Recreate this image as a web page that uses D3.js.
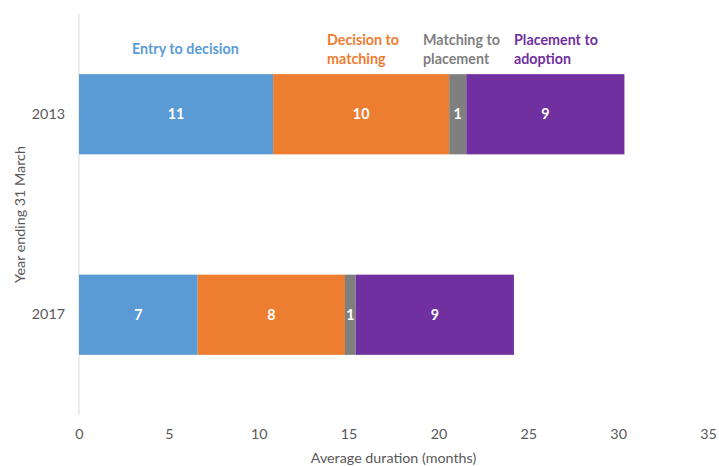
<!DOCTYPE html>
<html>
<head>
<meta charset="utf-8">
<script src="https://cdn.jsdelivr.net/npm/d3@7"></script>
<style>
  body { margin: 0; background: #fff; }
  text { font-family: Lato, "Open Sans", sans-serif; }
</style>
</head>
<body>
<script>
// data
var years = ["2013", "2017"];
var stages = ["Entry to decision", "Decision to matching", "Matching to placement", "Placement to adoption"];
var entryToDecision = [10.8, 6.6];
var decisionToMatching = [9.8, 8.2];
var matchingToPlacement = [0.95, 0.6];
var placementToAdoption = [8.8, 8.8];
var xTicks = [0, 5, 10, 15, 20, 25, 30, 35];

var colors = ["#5b9bd5", "#ed7d31", "#7f7f7f", "#7030a0"];

var width = 719, height = 466;
var margin = {top: 14, right: 11, bottom: 51, left: 79};
var fs = 14.3;

var rows = years.map(function (y, i) {
  return {
    year: y,
    "Entry to decision": entryToDecision[i],
    "Decision to matching": decisionToMatching[i],
    "Matching to placement": matchingToPlacement[i],
    "Placement to adoption": placementToAdoption[i]
  };
});

var svg = d3.select("body").append("svg")
  .attr("width", width)
  .attr("height", height);

var x = d3.scaleLinear()
  .domain([0, 35])
  .range([margin.left, width - margin.right]);

var y = d3.scaleBand()
  .domain(years)
  .range([margin.top, height - margin.bottom])
  .paddingInner(0.6)
  .paddingOuter(0.3);

var stack = d3.stack().keys(stages)(rows);

// vertical axis line
svg.append("line")
  .attr("x1", x(0)).attr("x2", x(0))
  .attr("y1", margin.top).attr("y2", height - margin.bottom)
  .attr("stroke", "#d9d9d9")
  .attr("stroke-width", 1);

var layer = svg.selectAll(".layer")
  .data(stack)
  .enter().append("g")
  .attr("class", "layer")
  .attr("fill", function (d, i) { return colors[i]; });

layer.selectAll("rect")
  .data(function (d) { return d; })
  .enter().append("rect")
  .attr("x", function (d) { return x(d[0]); })
  .attr("width", function (d) { return x(d[1]) - x(d[0]); })
  .attr("y", function (d) { return y(d.data.year); })
  .attr("height", y.bandwidth());

layer.selectAll(".val")
  .data(function (d) { return d; })
  .enter().append("text")
  .attr("class", "val")
  .attr("x", function (d) { return (x(d[0]) + x(d[1])) / 2; })
  .attr("y", function (d) { return y(d.data.year) + y.bandwidth() / 2; })
  .attr("dy", "0.35em")
  .attr("text-anchor", "middle")
  .attr("fill", "#fff")
  .attr("font-weight", "bold")
  .attr("font-size", fs)
  .text(function (d) { return Math.round(d[1] - d[0]); });

// x axis (ticks only, no line)
var xAxis = svg.append("g")
  .attr("transform", "translate(0," + (height - margin.bottom) + ")")
  .call(d3.axisBottom(x).tickValues(xTicks).tickSize(0).tickPadding(14));
xAxis.select(".domain").remove();
xAxis.selectAll("text")
  .attr("font-size", fs)
  .attr("fill", "#595959")
  .style("font-family", "Lato, 'Open Sans', sans-serif");

var yAxis = svg.append("g")
  .attr("transform", "translate(" + margin.left + ",0)")
  .call(d3.axisLeft(y).tickSize(0).tickPadding(14));
yAxis.select(".domain").remove();
yAxis.selectAll("text")
  .attr("font-size", fs)
  .attr("fill", "#595959")
  .style("font-family", "Lato, 'Open Sans', sans-serif");

svg.append("text")
  .attr("x", (x(0) + x(35)) / 2)
  .attr("y", 463)
  .attr("text-anchor", "middle")
  .attr("font-size", fs)
  .attr("fill", "#595959")
  .text("Average duration (months)");

svg.append("text")
  .attr("transform", "translate(25," + ((margin.top + height - margin.bottom) / 2) + ") rotate(-90)")
  .attr("text-anchor", "middle")
  .attr("font-size", fs)
  .attr("fill", "#595959")
  .text("Year ending 31 March");

// stage labels above the 2013 bar
var labelLines = [["Entry to decision"], ["Decision to", "matching"], ["Matching to", "placement"], ["Placement to", "adoption"]];
var labelX = [132, 327, 423, 514];
var labelY = [54, 45, 45, 45];

labelLines.forEach(function (lines, i) {
  var t = svg.append("text")
    .attr("x", labelX[i])
    .attr("y", labelY[i])
    .attr("font-size", fs)
    .attr("font-weight", "bold")
    .attr("fill", colors[i]);
  lines.forEach(function (l, j) {
    t.append("tspan")
      .attr("x", labelX[i])
      .attr("dy", j === 0 ? 0 : 19)
      .text(l);
  });
});
</script>
</body>
</html>
